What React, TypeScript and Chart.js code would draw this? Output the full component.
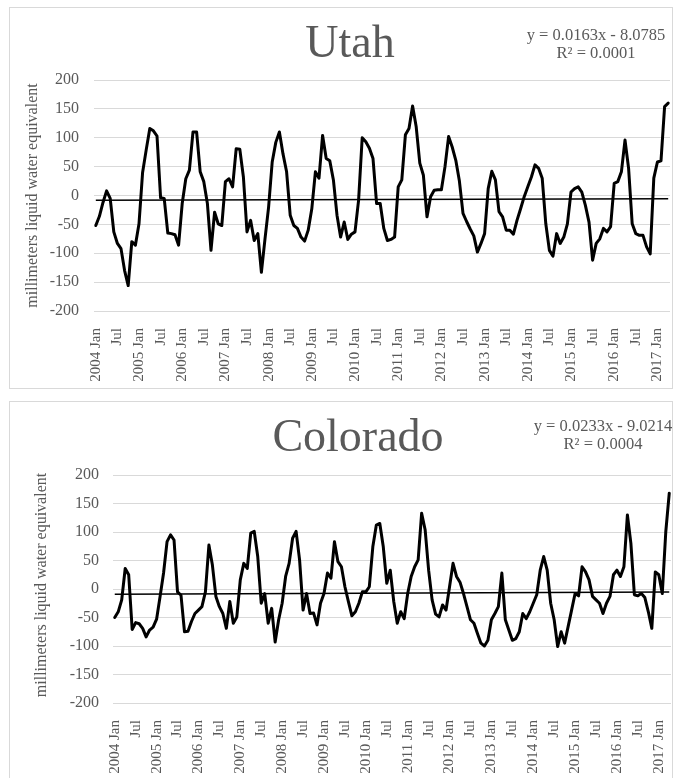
import React, { useEffect, useRef } from "react";
import { Chart, registerables } from "chart.js";

Chart.register(...registerables);

// ---------- data ----------
const monthNames = ["Jan", "Feb", "Mar", "Apr", "May", "Jun", "Jul", "Aug", "Sep", "Oct", "Nov", "Dec"];
const firstYear = 2004;
const monthCount = 160; // 2004 Jan .. 2017 Apr

const categories: string[] = Array.from(
  { length: monthCount },
  (_, i) => `${firstYear + Math.floor(i / 12)} ${monthNames[i % 12]}`
);

// tick labels shown every six months
const tickLabels: string[] = categories.map((c, i) =>
  i % 12 === 0 ? c : i % 12 === 6 ? "Jul" : ""
);

const yTicks = { min: -200, max: 200, step: 50 };
const yAxisTitle = "millimeters liquid water equivalent";

const utahValues: number[] = [
  -52, -36, -12, 8, -5, -63, -83, -92, -130, -156, -80, -86,
  -49, 40, 79, 116, 112, 103, -4, -5, -65, -66, -68, -86,
  -14, 29, 44, 110, 110, 41, 24, -14, -95, -29, -49, -52,
  24, 29, 15, 81, 80, 32, -63, -43, -78, -66, -133, -75,
  -20, 58, 92, 110, 72, 41, -34, -52, -57, -72, -79, -60,
  -23, 41, 30, 104, 64, 60, 27, -34, -72, -46, -76, -67,
  -63, -8, 100, 93, 82, 64, -14, -14, -57, -78, -76, -72,
  15, 27, 105, 116, 155, 119, 56, 35, -37, -2, 9, 10,
  10, 50, 102, 84, 61, 25, -31, -45, -58, -70, -98, -83,
  -66, 12, 42, 27, -28, -37, -60, -60, -67, -43, -23, -2,
  15, 32, 53, 47, 30, -49, -95, -105, -66, -83, -72, -49,
  6, 12, 15, 6, -17, -46, -112, -83, -75, -57, -63, -54,
  21, 24, 41, 96, 47, -49, -66, -69, -69, -89, -101, 30,
  58, 60, 154, 160,
];

const coloradoValues: number[] = [
  -50, -40, -19, 36, 25, -71, -59, -61, -69, -84, -72, -67,
  -53, -13, 28, 83, 95, 86, -5, -11, -75, -74, -57, -43,
  -37, -31, -5, 77, 42, -13, -31, -43, -69, -22, -60, -49,
  16, 45, 36, 98, 101, 57, -25, -8, -60, -34, -93, -54,
  -25, 22, 45, 89, 101, 51, -37, -8, -43, -42, -63, -25,
  -8, 28, 19, 83, 48, 39, 4, -22, -47, -40, -25, -5,
  -5, 4, 74, 112, 115, 74, 10, 33, -22, -60, -40, -52,
  -8, 22, 39, 51, 133, 104, 33, -19, -44, -49, -28, -37,
  4, 45, 22, 12, -8, -31, -54, -60, -78, -95, -100, -90,
  -54, -43, -31, 28, -54, -72, -90, -87, -75, -43, -52, -40,
  -25, -10, 33, 57, 33, -25, -54, -101, -75, -95, -66, -37,
  -8, -12, 39, 30, 16, -13, -19, -25, -43, -25, -13, 25,
  33, 22, 39, 130, 80, -10, -12, -8, -15, -40, -69, 30,
  25, -8, 100, 168,
];

// Excel linear trendline coefficients (x = 1..n)
const utahTrend = { slope: 0.0163, intercept: -8.0785, r2: "0.0001" };
const coloradoTrend = { slope: 0.0233, intercept: -9.0214, r2: "0.0004" };

// ---------- layout ----------
const FONT = '"Liberation Serif", "Times New Roman", serif';
const GRAY = "#595959";

type PanelSpec = {
  title: string;
  values: number[];
  trend: { slope: number; intercept: number; r2: string };
  top: number; // canvas top on page
  height: number; // canvas height
  plotLeft: number;
  plotRight: number;
  plotTop: number;
  plotBottom: number;
  titleX: number;
  titleY: number;
  eqX: number;
  eqY1: number;
  eqY2: number;
  yTitleX: number;
  yTitleDy: number;
  yPad: number;
};

const panels: PanelSpec[] = [
  {
    title: "Utah",
    values: utahValues,
    trend: utahTrend,
    top: 0,
    height: 395,
    plotLeft: 94,
    plotRight: 670,
    plotTop: 80,
    plotBottom: 311,
    titleX: 350,
    titleY: 57,
    eqX: 596,
    eqY1: 40,
    eqY2: 58,
    yTitleX: 33,
    yTitleDy: 0,
    yPad: 15,
  },
  {
    title: "Colorado",
    values: coloradoValues,
    trend: coloradoTrend,
    top: 395,
    height: 383,
    plotLeft: 113,
    plotRight: 671,
    plotTop: 80,
    plotBottom: 308,
    titleX: 358,
    titleY: 56,
    eqX: 603,
    eqY1: 36,
    eqY2: 54,
    yTitleX: 42,
    yTitleDy: -4,
    yPad: 14,
  },
];

const panelTextPlugin = {
  id: "panelText",
  afterDraw(chart: any, _args: any, opts: any) {
    const ctx = chart.ctx as CanvasRenderingContext2D;
    const area = chart.chartArea;
    ctx.save();
    ctx.fillStyle = GRAY;
    ctx.textAlign = "center";
    ctx.textBaseline = "alphabetic";
    ctx.font = `46px ${FONT}`;
    ctx.fillText(opts.title, opts.titleX, opts.titleY);
    ctx.font = `16.5px ${FONT}`;
    ctx.fillText(opts.eq1, opts.eqX, opts.eqY1);
    ctx.fillText(opts.eq2, opts.eqX, opts.eqY2);
    ctx.font = `16px ${FONT}`;
    ctx.translate(opts.yTitleX, (area.top + area.bottom) / 2 + opts.yTitleDy);
    ctx.rotate(-Math.PI / 2);
    ctx.textBaseline = "middle";
    ctx.fillText(yAxisTitle, 0, 0);
    ctx.restore();
  },
};

function formatEq(slope: number, intercept: number) {
  const sign = intercept < 0 ? "-" : "+";
  return `y = ${slope.toFixed(4)}x ${sign} ${Math.abs(intercept).toFixed(4)}`;
}

function Panel({ spec }: { spec: PanelSpec }) {
  const ref = useRef<HTMLCanvasElement | null>(null);

  useEffect(() => {
    if (!ref.current) return;
    const n = spec.values.length;
    const trendData = spec.values.map((_, i) =>
      i === 0 || i === n - 1 ? spec.trend.slope * (i + 1) + spec.trend.intercept : null
    );
    const chart = new Chart(ref.current, {
      type: "line",
      data: {
        labels: categories,
        datasets: [
          {
            data: trendData,
            borderColor: "#000000",
            borderWidth: 1.5,
            pointRadius: 0,
            spanGaps: true,
            order: 0,
          },
          {
            data: spec.values,
            borderColor: "#000000",
            borderWidth: 3,
            pointRadius: 0,
            tension: 0,
            borderJoinStyle: "round",
            borderCapStyle: "round",
            order: 1,
          },
        ],
      },
      options: {
        animation: false,
        responsive: false,
        maintainAspectRatio: false,
        events: [],
        layout: {
          padding: { left: 0, right: 674 - spec.plotRight, top: spec.plotTop, bottom: 0 },
        },
        plugins: {
          legend: { display: false },
          tooltip: { enabled: false },
          title: { display: false },
          panelText: {
            title: spec.title,
            titleX: spec.titleX,
            titleY: spec.titleY,
            eq1: formatEq(spec.trend.slope, spec.trend.intercept),
            eq2: `R² = ${spec.trend.r2}`,
            eqX: spec.eqX,
            eqY1: spec.eqY1,
            eqY2: spec.eqY2,
            yTitleX: spec.yTitleX,
            yTitleDy: spec.yTitleDy,
          },
        } as any,
        scales: {
          x: {
            type: "category",
            offset: true,
            grid: { display: false },
            border: { display: false },
            ticks: {
              autoSkip: false,
              maxRotation: 90,
              minRotation: 90,
              padding: 9,
              color: GRAY,
              font: { family: FONT, size: 15 },
              callback: (_v: any, index: number) => tickLabels[index],
            },
            afterFit: (s: any) => {
              s.height = spec.height - spec.plotBottom;
              s.paddingLeft = 0;
              s.paddingRight = 0;
            },
          },
          y: {
            min: yTicks.min,
            max: yTicks.max,
            ticks: {
              stepSize: yTicks.step,
              padding: spec.yPad,
              color: GRAY,
              font: { family: FONT, size: 16 },
            },
            grid: { color: "#d9d9d9", lineWidth: 1, drawTicks: false },
            border: { display: false },
            afterFit: (s: any) => {
              s.width = spec.plotLeft;
              s.paddingTop = 0;
              s.paddingBottom = 0;
            },
          },
        },
      },
      plugins: [panelTextPlugin],
    });
    return () => chart.destroy();
  }, [spec]);

  return (
    <canvas
      ref={ref}
      width={674}
      height={spec.height}
      style={{ position: "absolute", left: 0, top: spec.top, width: 674, height: spec.height }}
    />
  );
}

export default function App() {
  return (
    <div
      style={{
        position: "absolute",
        left: 0,
        top: 0,
        width: 674,
        height: 778,
        overflow: "hidden",
        background: "#ffffff",
      }}
    >
      <div
        style={{
          position: "absolute",
          left: 9,
          top: 7,
          width: 664,
          height: 382,
          border: "1px solid #d9d9d9",
          boxSizing: "border-box",
        }}
      />
      <div
        style={{
          position: "absolute",
          left: 9,
          top: 401,
          width: 664,
          height: 400,
          border: "1px solid #d9d9d9",
          boxSizing: "border-box",
        }}
      />
      {panels.map((p) => (
        <Panel key={p.title} spec={p} />
      ))}
    </div>
  );
}
